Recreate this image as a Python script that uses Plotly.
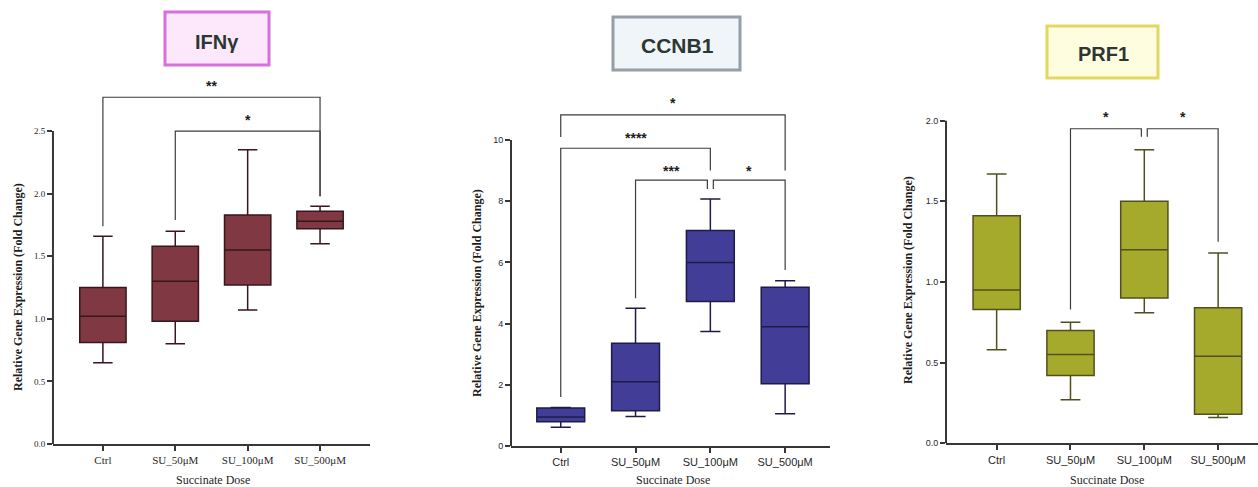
import plotly.graph_objects as go

# ---------------- data ----------------
categories = ["Ctrl", "SU_50μM", "SU_100μM", "SU_500μM"]
gene_names = ["IFNγ", "CCNB1", "PRF1"]

# panel 1 (IFNγ)
ifng_min = [0.65, 0.80, 1.07, 1.60]
ifng_q1 = [0.81, 0.98, 1.27, 1.72]
ifng_med = [1.02, 1.30, 1.55, 1.78]
ifng_q3 = [1.25, 1.58, 1.83, 1.86]
ifng_max = [1.66, 1.70, 2.35, 1.90]

# panel 2 (CCNB1)
ccnb_min = [0.61, 0.96, 3.74, 1.05]
ccnb_q1 = [0.79, 1.15, 4.72, 2.03]
ccnb_med = [0.95, 2.10, 6.00, 3.90]
ccnb_q3 = [1.24, 3.36, 7.04, 5.19]
ccnb_max = [1.26, 4.50, 8.07, 5.40]

# panel 3 (PRF1)
prf_min = [0.58, 0.27, 0.81, 0.16]
prf_q1 = [0.83, 0.42, 0.90, 0.18]
prf_med = [0.95, 0.55, 1.20, 0.54]
prf_q3 = [1.41, 0.70, 1.50, 0.84]
prf_max = [1.67, 0.75, 1.82, 1.18]

# significance comparisons: (group a, group b, label)
ifng_sig = [(0, 3, "**"), (1, 3, "*")]
ccnb_sig = [(0, 3, "*"), (0, 2, "****"), (1, 2, "***"), (2, 3, "*")]
prf_sig = [(1, 2, "*"), (2, 3, "*")]

y_title = "Relative Gene Expression (Fold Change)"
x_title = "Succinate Dose"

# ---------------- layout config ----------------
panels = [
    dict(stats=(ifng_min, ifng_q1, ifng_med, ifng_q3, ifng_max), sig=ifng_sig,
         fill="rgb(128,56,66)", line="rgb(55,22,28)",
         xdom=[0.0421, 0.2941], ydom=[0.0883, 0.8466],
         xrange=[-0.69, 3.69], yrange=[0, 2.95], ytop=2.5, dtick=0.5, tfmt=".1f",
         tickfont="Liberation Serif",
         # (left x offset, right x offset, bracket level, left leg end, right leg end, text y)
         brk=[(0, 0, 2.77, 1.74, 1.98, 2.86), (0, 0, 2.50, 1.79, 1.98, 2.59)],
         title_box=[165, 269, 12, 65], title_xy=(217, 42), title_size=20,
         box_line="rgb(214,112,218)", box_fill="rgb(253,232,251)",
         ytitle_x=18, ytitle_y=287, xtitle_x=213),
    dict(stats=(ccnb_min, ccnb_q1, ccnb_med, ccnb_q3, ccnb_max), sig=ccnb_sig,
         fill="rgb(66,62,152)", line="rgb(30,28,70)",
         xdom=[0.4062, 0.6598], ydom=[0.0842, 0.8131],
         xrange=[-0.665, 3.6], yrange=[0, 11.6], ytop=10, dtick=2, tfmt="d",
         tickfont="Liberation Sans",
         brk=[(0, 0, 10.82, 10.1, 9.0, 11.2), (0, 0, 9.73, 1.6, 9.0, 10.05),
              (0, -0.04, 8.69, 4.83, 8.4, 9.0), (0.04, 0, 8.69, 8.4, 5.75, 9.0)],
         title_box=[613, 740, 17, 70], title_xy=(677, 46), title_size=21,
         box_line="rgb(150,158,168)", box_fill="rgb(240,245,250)",
         ytitle_x=477, ytitle_y=293, xtitle_x=673),
    dict(stats=(prf_min, prf_q1, prf_med, prf_q3, prf_max), sig=prf_sig,
         fill="rgb(166,170,44)", line="rgb(80,80,30)",
         xdom=[0.752, 1.0], ydom=[0.0897, 0.792],
         xrange=[-0.686, 3.54], yrange=[0, 2.12], ytop=2.0, dtick=0.5, tfmt=".1f",
         tickfont="Liberation Sans",
         brk=[(0, -0.04, 1.95, 0.83, 1.90, 2.02), (0.04, 0, 1.95, 1.90, 1.25, 2.02)],
         title_box=[1047, 1158, 26, 78], title_xy=(1103, 54), title_size=20,
         box_line="rgb(226,216,96)", box_fill="rgb(255,253,224)",
         ytitle_x=908, ytitle_y=280, xtitle_x=1107),
]

W, H = 1258, 487
fig = go.Figure()
shapes = []
annotations = []
axis_color = "rgb(55,55,55)"

for p_i, p in enumerate(panels):
    n = "" if p_i == 0 else str(p_i + 1)
    xa, ya = "x" + n, "y" + n
    mn, q1, med, q3, mx = p["stats"]
    for c_i, cat in enumerate(categories):
        fig.add_trace(go.Box(
            x=[c_i], q1=[q1[c_i]], median=[med[c_i]], q3=[q3[c_i]],
            lowerfence=[mn[c_i]], upperfence=[mx[c_i]],
            width=0.64, whiskerwidth=0.42,
            fillcolor=p["fill"], line=dict(color=p["line"], width=1.5),
            boxpoints=False, showlegend=False, hoverinfo="skip",
            xaxis=xa, yaxis=ya))

    xk = "xaxis" + n
    yk = "yaxis" + n
    tickvals_y = []
    v = 0.0
    while v <= p["ytop"] + 1e-9:
        tickvals_y.append(round(v, 3))
        v += p["dtick"]
    fig.update_layout(**{
        xk: dict(domain=p["xdom"], range=p["xrange"], anchor=ya,
                 tickvals=list(range(len(categories))), ticktext=categories,
                 showline=True, linecolor=axis_color, linewidth=2,
                 ticks="outside", ticklen=5, tickwidth=1.5, tickcolor=axis_color,
                 showgrid=False, zeroline=False, automargin=False,
                 tickfont=dict(family=p["tickfont"], size=11, color="rgb(40,40,40)")),
        yk: dict(domain=p["ydom"], range=p["yrange"], anchor=xa,
                 tickvals=tickvals_y, tickformat=p["tfmt"],
                 showline=False, ticks="outside", ticklen=5, tickwidth=1.5,
                 tickcolor=axis_color, showgrid=False, zeroline=False,
                 automargin=False,
                 tickfont=dict(family=p["tickfont"], size=9, color="rgb(40,40,40)")),
    })
    # y axis line stopping at the top tick
    shapes.append(dict(type="line", xref=xa + " domain", yref=ya,
                       x0=0, x1=0, y0=0, y1=p["ytop"],
                       line=dict(color=axis_color, width=2)))

    # significance brackets
    for (a, b, lab), (oa, ob, lvl, la, lb, ty) in zip(p["sig"], p["brk"]):
        xa0, xb0 = a + oa, b + ob
        shapes.append(dict(type="path", xref=xa, yref=ya,
                           path=f"M {xa0},{la} L {xa0},{lvl} L {xb0},{lvl} L {xb0},{lb}",
                           line=dict(color="rgb(60,60,60)", width=1.2)))
        annotations.append(dict(x=(xa0 + xb0) / 2, y=ty, xref=xa, yref=ya,
                                xanchor="center", yanchor="middle",
                                text=f"<b>{lab}</b>", showarrow=False,
                                font=dict(family="Liberation Sans", size=14,
                                          color="rgb(30,30,30)")))

    # title box
    x0, x1, y0, y1 = p["title_box"]
    shapes.append(dict(type="rect", xref="paper", yref="paper",
                       x0=x0 / W, x1=x1 / W, y0=1 - y1 / H, y1=1 - y0 / H,
                       line=dict(color=p["box_line"], width=3),
                       fillcolor=p["box_fill"]))
    tx, ty_ = p["title_xy"]
    annotations.append(dict(x=tx / W, y=1 - ty_ / H, xref="paper", yref="paper",
                            xanchor="center", yanchor="middle",
                            text=f"<b>{gene_names[p_i]}</b>", showarrow=False,
                            font=dict(family="Liberation Sans", size=p["title_size"],
                                      color="rgb(45,55,50)")))
    # axis titles
    annotations.append(dict(x=p["ytitle_x"] / W, y=1 - p["ytitle_y"] / H,
                            xref="paper", yref="paper", textangle=-90,
                            xanchor="center", yanchor="middle",
                            text=f"<b>{y_title}</b>", showarrow=False,
                            font=dict(family="Liberation Serif", size=12,
                                      color="rgb(30,30,30)")))
    annotations.append(dict(x=p["xtitle_x"] / W, y=1 - 480 / H,
                            xref="paper", yref="paper",
                            xanchor="center", yanchor="middle",
                            text=x_title, showarrow=False,
                            font=dict(family="Liberation Serif", size=12,
                                      color="rgb(30,30,30)")))

fig.update_layout(width=W, height=H, autosize=False,
                  margin=dict(l=0, r=0, t=0, b=0),
                  paper_bgcolor="white", plot_bgcolor="white",
                  shapes=shapes, annotations=annotations, showlegend=False)

fig.write_html("out.html")
